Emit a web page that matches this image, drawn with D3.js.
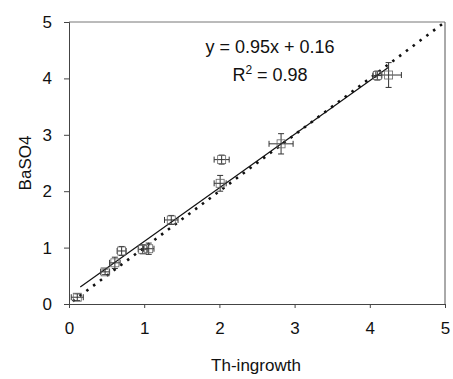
<!DOCTYPE html>
<html>
<head>
<meta charset="utf-8">
<script src="https://cdn.jsdelivr.net/npm/d3@7"></script>
<style>
  body { margin: 0; background: #fff; }
  svg text { font-family: "Liberation Sans", Arial, sans-serif; fill: #111; }
</style>
</head>
<body>
<div id="chart"></div>
<script>
// Data (Th-ingrowth vs BaSO4)
const xVals  = [0.11, 0.48, 0.61, 0.70, 0.98, 1.06, 1.36, 2.01, 2.03, 2.82, 4.10, 4.25];
const yVals  = [0.12, 0.57, 0.73, 0.94, 0.97, 0.98, 1.49, 2.14, 2.56, 2.84, 4.05, 4.06];
const xErr   = [0.08, 0.06, 0.07, 0.06, 0.06, 0.07, 0.09, 0.08, 0.10, 0.16, 0.06, 0.17];
const yErr   = [0.06, 0.05, 0.10, 0.08, 0.08, 0.10, 0.08, 0.14, 0.08, 0.18, 0.08, 0.22];
const xTicks = [0, 1, 2, 3, 4, 5];
const yTicks = [0, 1, 2, 3, 4, 5];
const slope = 0.95, intercept = 0.16;
const fitRange = [0.15, 4.25];
const oneToOne = [0.05, 5];

const W = 453, H = 379;
const margin = { left: 69, right: 6, top: 22, bottom: 75 };
const innerW = W - margin.left - margin.right;
const innerH = H - margin.top - margin.bottom;

const svg = d3.select("#chart").append("svg").attr("width", W).attr("height", H);
const g = svg.append("g").attr("transform", `translate(${margin.left},${margin.top})`);

const x = d3.scaleLinear().domain([0, 5]).range([0, innerW - 2]);
const y = d3.scaleLinear().domain([0, 5]).range([innerH, 0]);

// Frame (top and right faint)
g.append("line").attr("x1", 0).attr("x2", x(5)).attr("y1", 0).attr("y2", 0)
  .attr("stroke", "#777").attr("stroke-width", 1);
g.append("line").attr("x1", x(5)).attr("x2", x(5)).attr("y1", 0).attr("y2", innerH)
  .attr("stroke", "#555").attr("stroke-width", 1);

// Axes
const xAxis = g.append("g").attr("transform", `translate(0,${innerH})`)
  .call(d3.axisBottom(x).tickValues(xTicks).tickSize(4).tickPadding(14).tickFormat(d3.format("d")));
const yAxis = g.append("g")
  .call(d3.axisLeft(y).tickValues(yTicks).tickSize(5).tickPadding(12).tickFormat(d3.format("d")));
[xAxis, yAxis].forEach(a => {
  a.select(".domain").attr("stroke", "#444");
  a.selectAll(".tick line").attr("stroke", "#444");
  a.selectAll("text").style("font-size", "17px").attr("fill", "#111");
});

// 1:1 dotted line
g.append("line")
  .attr("x1", x(oneToOne[0])).attr("y1", y(oneToOne[0]))
  .attr("x2", x(oneToOne[1])).attr("y2", y(oneToOne[1]))
  .attr("stroke", "#111").attr("stroke-width", 2.6)
  .attr("stroke-dasharray", "2.5,6").attr("stroke-linecap", "butt");

// Regression line
g.append("line")
  .attr("x1", x(fitRange[0])).attr("y1", y(slope * fitRange[0] + intercept))
  .attr("x2", x(fitRange[1])).attr("y2", y(slope * fitRange[1] + intercept))
  .attr("stroke", "#111").attr("stroke-width", 1.2);

// Points with error bars
const pts = xVals.map((v, i) => ({ x: v, y: yVals[i], ex: xErr[i], ey: yErr[i] }));
const pg = g.selectAll("g.pt").data(pts).join("g").attr("class", "pt");
const cap = 3;
pg.append("line").attr("x1", d => x(d.x - d.ex)).attr("x2", d => x(d.x + d.ex))
  .attr("y1", d => y(d.y)).attr("y2", d => y(d.y)).attr("stroke", "#333");
pg.append("line").attr("x1", d => x(d.x)).attr("x2", d => x(d.x))
  .attr("y1", d => y(d.y - d.ey)).attr("y2", d => y(d.y + d.ey)).attr("stroke", "#333");
pg.append("line").attr("x1", d => x(d.x - d.ex)).attr("x2", d => x(d.x - d.ex))
  .attr("y1", d => y(d.y) - cap).attr("y2", d => y(d.y) + cap).attr("stroke", "#333");
pg.append("line").attr("x1", d => x(d.x + d.ex)).attr("x2", d => x(d.x + d.ex))
  .attr("y1", d => y(d.y) - cap).attr("y2", d => y(d.y) + cap).attr("stroke", "#333");
pg.append("line").attr("x1", d => x(d.x) - cap).attr("x2", d => x(d.x) + cap)
  .attr("y1", d => y(d.y - d.ey)).attr("y2", d => y(d.y - d.ey)).attr("stroke", "#333");
pg.append("line").attr("x1", d => x(d.x) - cap).attr("x2", d => x(d.x) + cap)
  .attr("y1", d => y(d.y + d.ey)).attr("y2", d => y(d.y + d.ey)).attr("stroke", "#333");
pg.append("rect").attr("x", d => x(d.x) - 4).attr("y", d => y(d.y) - 4)
  .attr("width", 8).attr("height", 8).attr("fill", "none")
  .attr("stroke", "#666").attr("stroke-width", 0.8);

// Equation text
svg.append("text").attr("x", 270).attr("y", 53)
  .attr("text-anchor", "middle").style("font-size", "18px")
  .text("y = 0.95x + 0.16");
const r2 = svg.append("text").attr("x", 270).attr("y", 81)
  .attr("text-anchor", "middle").style("font-size", "18px");
r2.append("tspan").text("R");
r2.append("tspan").attr("dy", -7).style("font-size", "12px").text("2");
r2.append("tspan").attr("dy", 7).text(" = 0.98");

// Axis titles
svg.append("text").attr("x", margin.left + innerW / 2 - 2).attr("y", 371)
  .attr("text-anchor", "middle").style("font-size", "17px").text("Th-ingrowth");
svg.append("text").attr("transform", `translate(31,${margin.top + innerH / 2}) rotate(-90)`)
  .attr("text-anchor", "middle").style("font-size", "17px").text("BaSO4");
</script>
</body>
</html>
